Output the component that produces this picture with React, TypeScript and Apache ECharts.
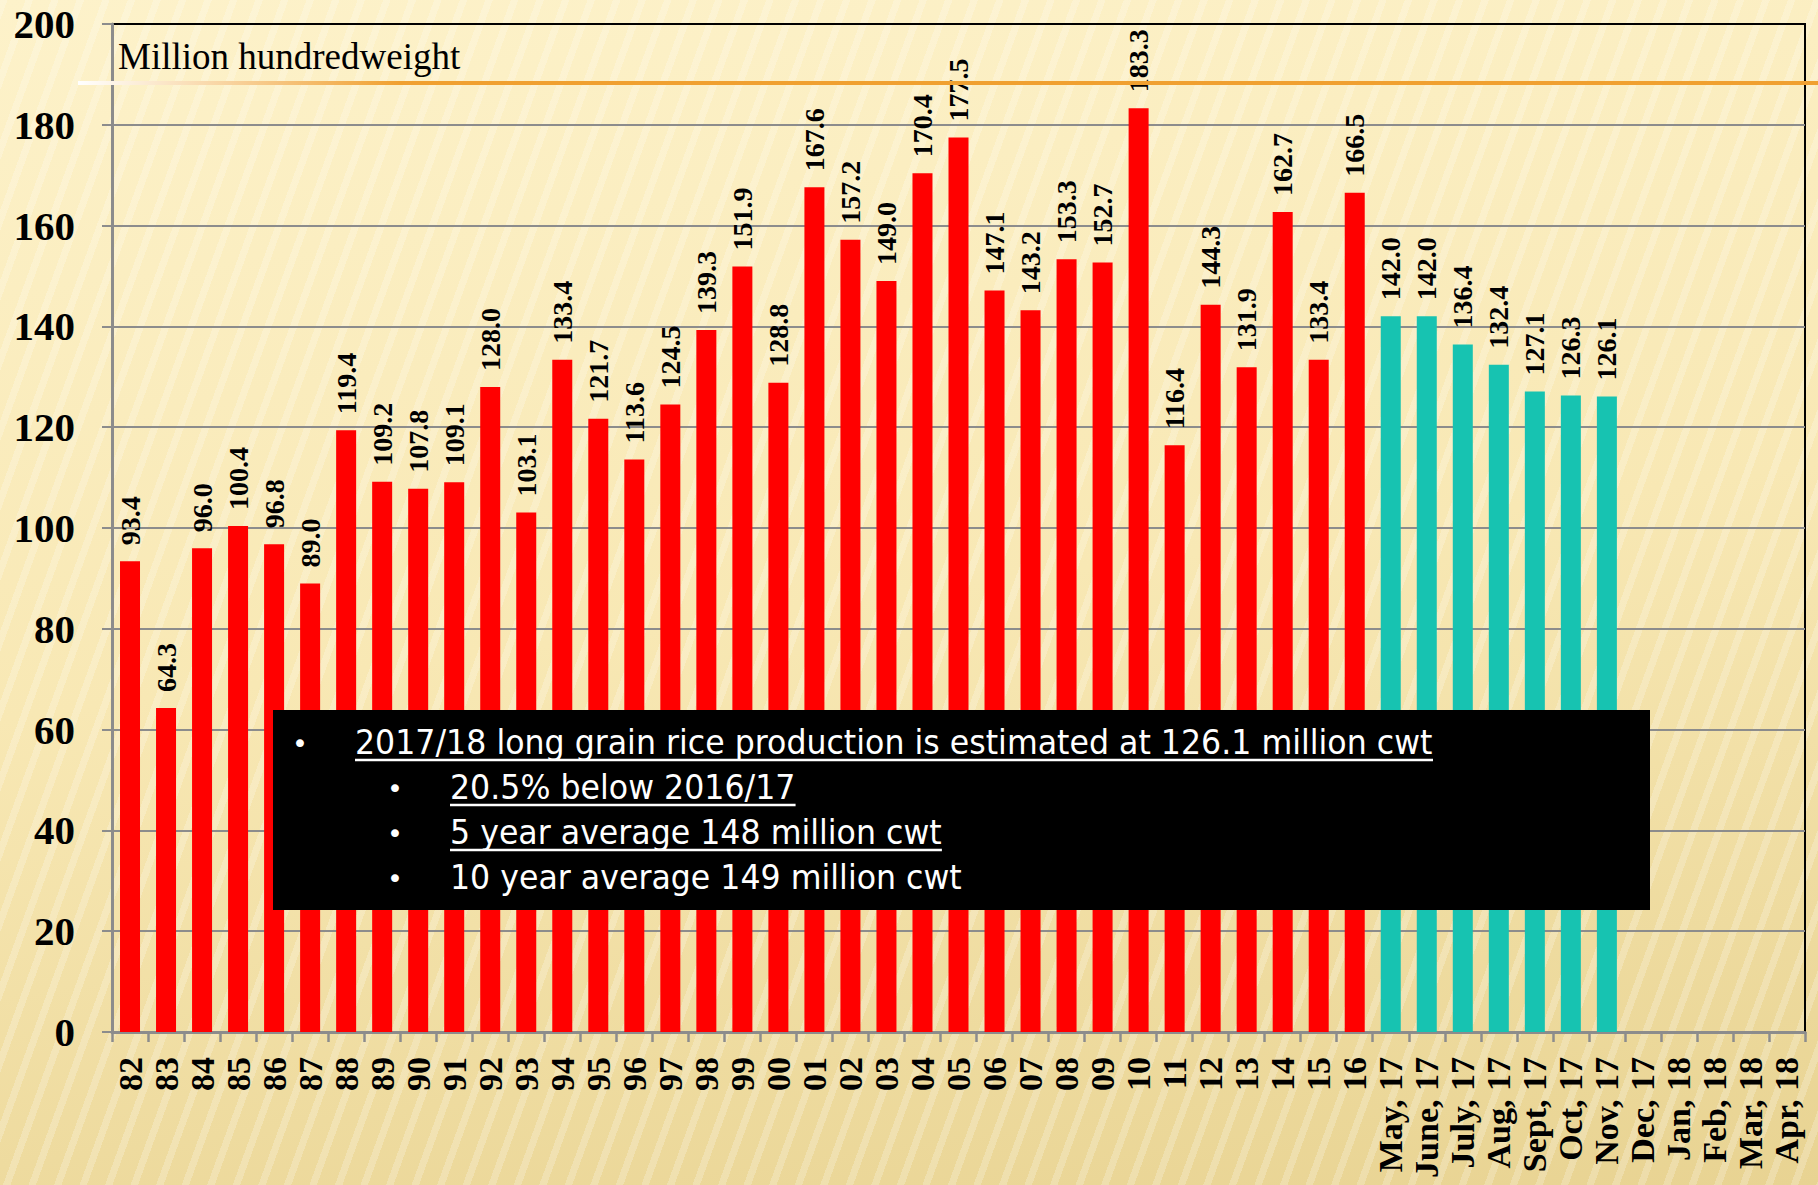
import React, { useEffect, useRef } from "react";
import * as echarts from "echarts";

const yearLabels = [
  "82", "83", "84", "85", "86", "87", "88", "89", "90", "91", "92", "93", "94", "95", "96", "97", "98", "99",
  "00", "01", "02", "03", "04", "05", "06", "07", "08", "09", "10", "11", "12", "13", "14", "15", "16",
];
const monthLabels = [
  "May, 17", "June, 17", "July, 17", "Aug, 17", "Sept, 17", "Oct, 17", "Nov, 17",
  "Dec, 17", "Jan, 18", "Feb, 18", "Mar, 18", "Apr, 18",
];
const annualProduction = [
  93.4, 64.3, 96.0, 100.4, 96.8, 89.0, 119.4, 109.2, 107.8, 109.1, 128.0, 103.1, 133.4, 121.7, 113.6, 124.5, 139.3, 151.9,
  128.8, 167.6, 157.2, 149.0, 170.4, 177.5, 147.1, 143.2, 153.3, 152.7, 183.3, 116.4, 144.3, 131.9, 162.7, 133.4, 166.5,
];
const monthlyEstimates = [142.0, 142.0, 136.4, 132.4, 127.1, 126.3, 126.1];
const yMin = 0;
const yMax = 200;
const yInterval = 20;
const unitLabel = "Million hundredweight";
const noteLines = [
  { text: "2017/18 long grain rice production is estimated at 126.1 million cwt", level: 0, underline: true },
  { text: "20.5% below 2016/17", level: 1, underline: true },
  { text: "5 year average 148 million cwt", level: 1, underline: true },
  { text: "10 year average 149 million cwt", level: 1, underline: false },
];

const RED = "#FF0000";
const TEAL = "#17C3B1";
const GRID_GRAY = "#8C8C8C";
const SERIF = '"Liberation Serif", "Times New Roman", serif';
const NOTE_FONT_FAMILY = '"DejaVu Sans", sans-serif';
const NOTE_FONT_SIZE = 34;

export default function App() {
  const ref = useRef<HTMLDivElement>(null);

  useEffect(() => {
    if (!ref.current) return;
    const chart = echarts.init(ref.current, undefined, { renderer: "svg" });

    const categories = [...yearLabels, ...monthLabels];
    const data: any[] = [
      ...annualProduction.map((v) => ({ value: v, itemStyle: { color: RED } })),
      ...monthlyEstimates.map((v) => ({ value: v, itemStyle: { color: TEAL } })),
    ];
    while (data.length < categories.length) data.push({ value: null });

    const ctx = document.createElement("canvas").getContext("2d")!;
    ctx.font = `${NOTE_FONT_SIZE}px ${NOTE_FONT_FAMILY}`;
    const firstWidth = ctx.measureText(noteLines[0].text).width || 1;
    const targetFirstWidth = 1078;
    const sx = targetFirstWidth / firstWidth;

    const boxX = 273;
    const boxY = 710;
    const boxW = 1377;
    const boxH = 200;
    const baselines = [755, 800, 845, 890];
    const bulletX = [300, 395];
    const textX = [355, 450];

    const noteGraphics: any[] = [];
    noteLines.forEach((ln, i) => {
      const by = baselines[i];
      const tx = textX[ln.level];
      noteGraphics.push({
        type: "text",
        x: bulletX[ln.level],
        y: by - 12,
        z: 101,
        style: {
          text: "•",
          fill: "#fff",
          fontSize: 27,
          fontFamily: NOTE_FONT_FAMILY,
          align: "center",
          verticalAlign: "middle",
        },
      });
      noteGraphics.push({
        type: "text",
        x: tx,
        y: by - 12,
        z: 101,
        scaleX: sx,
        style: {
          text: ln.text,
          fill: "#fff",
          fontSize: NOTE_FONT_SIZE,
          fontFamily: NOTE_FONT_FAMILY,
          align: "left",
          verticalAlign: "middle",
        },
      });
      if (ln.underline) {
        const w = ctx.measureText(ln.text).width * sx;
        noteGraphics.push({
          type: "line",
          z: 101,
          shape: { x1: tx, y1: by + 5, x2: tx + w, y2: by + 5 },
          style: { stroke: "#fff", lineWidth: 2.5 },
        });
      }
    });

    chart.setOption({
      animation: false,
      backgroundColor: "transparent",
      grid: {
        left: 112,
        right: 13,
        top: 24,
        bottom: 153,
        show: true,
        borderColor: "#000",
        borderWidth: 2,
        backgroundColor: "transparent",
      },
      xAxis: {
        type: "category",
        data: categories,
        axisLine: { show: true, lineStyle: { color: GRID_GRAY, width: 3 } },
        axisTick: { show: true, alignWithLabel: false, length: 10, lineStyle: { color: GRID_GRAY, width: 2.5 } },
        axisLabel: {
          interval: 0,
          rotate: 90,
          margin: 25,
          color: "#000",
          fontFamily: SERIF,
          fontWeight: "bold",
          fontSize: 34,
        },
      },
      yAxis: {
        type: "value",
        min: yMin,
        max: yMax,
        interval: yInterval,
        axisLine: { show: true, lineStyle: { color: GRID_GRAY, width: 3 } },
        axisTick: { show: true, length: 10, lineStyle: { color: GRID_GRAY, width: 2 } },
        axisLabel: {
          margin: 37,
          color: "#000",
          fontFamily: SERIF,
          fontWeight: "bold",
          fontSize: 41,
        },
        splitLine: { show: true, showMaxLine: false, lineStyle: { color: GRID_GRAY, width: 2 } },
      },
      series: [
        {
          type: "bar",
          data,
          barWidth: 20,
          label: {
            show: true,
            position: "top",
            rotate: 90,
            align: "left",
            verticalAlign: "middle",
            distance: 16,
            color: "#000",
            fontFamily: SERIF,
            fontWeight: "bold",
            fontSize: 28,
            formatter: (p: any) => (p.value == null ? "" : Number(p.value).toFixed(1)),
          },
        },
      ],
      graphic: [
        {
          type: "line",
          z: 50,
          shape: { x1: 78, y1: 83, x2: 400, y2: 83 },
          style: {
            lineWidth: 4,
            stroke: {
              type: "linear",
              global: true,
              x: 78,
              y: 0,
              x2: 400,
              y2: 0,
              colorStops: [
                { offset: 0, color: "#FFFFFF" },
                { offset: 1, color: "#F0A030" },
              ],
            },
          },
        },
        {
          type: "line",
          z: 50,
          shape: { x1: 399, y1: 83, x2: 1818, y2: 83 },
          style: { lineWidth: 4, stroke: "#F0A030" },
        },
        {
          type: "text",
          x: 118,
          y: 56,
          z: 60,
          style: {
            text: unitLabel,
            fill: "#000",
            fontSize: 37,
            fontFamily: SERIF,
            align: "left",
            verticalAlign: "middle",
          },
        },
        {
          type: "rect",
          z: 100,
          shape: { x: boxX, y: boxY, width: boxW, height: boxH },
          style: { fill: "#000" },
        },
        ...noteGraphics,
      ],
    });

    return () => chart.dispose();
  }, []);

  return (
    <div
      style={{
        position: "fixed",
        left: 0,
        top: 0,
        width: 1818,
        height: 1185,
        background:
          "repeating-linear-gradient(110deg, rgba(255,255,255,0.22) 0px, rgba(255,255,255,0.22) 7px, rgba(255,255,255,0) 7px, rgba(255,255,255,0) 24px), linear-gradient(172deg, #FDF2CA 0%, #F8E8B4 50%, #E8D392 100%)",
      }}
    >
      <div ref={ref} style={{ width: 1818, height: 1185 }} />
    </div>
  );
}
